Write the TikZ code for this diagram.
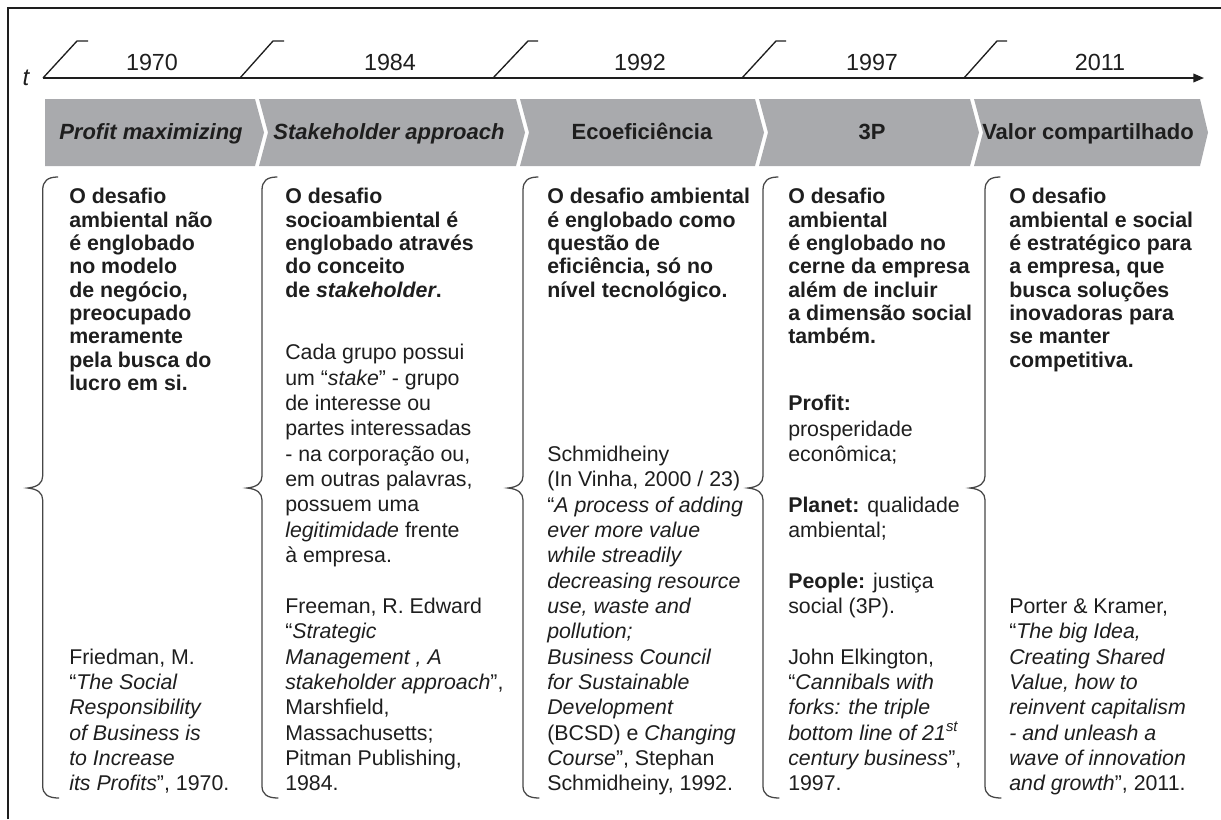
\documentclass[tikz,border=0pt]{standalone}
\usepackage{fontspec}
\setmainfont{Liberation Sans}
\usetikzlibrary{arrows.meta}
\definecolor{bandgray}{RGB}{169,170,173}
\definecolor{ink}{RGB}{30,30,30}
\definecolor{bracegray}{RGB}{70,70,70}

\begin{document}
\begin{tikzpicture}[x=0.75pt,y=-0.75pt,
  frameline/.style={draw=ink,line width=1.1pt},
  axisline/.style={draw=ink,line width=1.1pt},
  tickline/.style={draw=ink,line width=1pt,line join=round},
  band/.style={fill=bandgray,draw=none},
  yearlbl/.style={anchor=base,inner sep=0pt,text=ink,font=\fontsize{17.5}{20}\selectfont},
  chevlbl/.style={anchor=base,inner sep=0pt,text=ink,font=\fontsize{16.5}{19}\selectfont\bfseries},
  boldblk/.style={anchor=north west,inner sep=0pt,align=left,text=ink,font=\fontsize{16}{17.5}\selectfont\bfseries},
  regblk/.style={anchor=north west,inner sep=0pt,align=left,text=ink,font=\fontsize{16}{19}\selectfont},
  bracestyle/.style={draw=bracegray,line width=0.95pt,line cap=round},
  pics/lbrace/.style={code={
    \draw[bracestyle] (15,177) .. controls (5,177) and (0,181) .. (0,190)
      -- (0,476) .. controls (0,483) and (-5,487) .. (-15,488)
      .. controls (-5,489) and (0,493) .. (0,500)
      -- (0,786) .. controls (0,794) and (5,798) .. (16,798);
  }}
]
\useasboundingbox (0,0) rectangle (1221,819);

% outer frame (left and top edges)
\draw[frameline] (8,819) -- (8,8) -- (1221,8);

% time axis
\node[inner sep=0pt,anchor=base,text=ink,font=\fontsize{18}{20}\selectfont\itshape] (tlabel) at (26,85) {t};
\coordinate (axstart) at (43,78);
\coordinate (axend) at (1204,78);
\draw[axisline,-{Triangle[length=8pt,width=6.5pt]}] (axstart) -- (axend);

% period ticks
\draw[tickline] (43,78) -- (77,41) -- (88,41);
\draw[tickline] (240,78) -- (273,41) -- (284,41);
\draw[tickline] (493,78) -- (528,41) -- (538,41);
\draw[tickline] (742,78) -- (776,41) -- (786,41);
\draw[tickline] (964,78) -- (997,41) -- (1007,41);

% years
\node[yearlbl] (y1970) at (152,70) {1970};
\node[yearlbl] (y1984) at (390,70) {1984};
\node[yearlbl] (y1992) at (640,70) {1992};
\node[yearlbl] (y1997) at (872,70) {1997};
\node[yearlbl] (y2011) at (1100,70) {2011};

% chevron band
\path[band] (45,99) -- (255,99) -- (264,132.5) -- (255,166) -- (45,166) -- cycle;
\path[band] (259,99) -- (516,99) -- (525,132.5) -- (516,166) -- (259,166) -- (268,132.5) -- cycle;
\path[band] (520,99) -- (755,99) -- (764,132.5) -- (755,166) -- (520,166) -- (529,132.5) -- cycle;
\path[band] (759,99) -- (970,99) -- (979,132.5) -- (970,166) -- (759,166) -- (768,132.5) -- cycle;
\path[band] (974,99) -- (1200,99) -- (1208,132.5) -- (1200,166) -- (974,166) -- (983,132.5) -- cycle;

\node[chevlbl] (ch1) at (151,139) {\itshape Profit maximizing};
\node[chevlbl] (ch2) at (389,139) {\itshape Stakeholder approach};
\node[chevlbl] (ch3) at (642,139) {Ecoeficiência};
\node[chevlbl] (ch4) at (872,139) {3P};
\node[chevlbl] (ch5) at (1088,139) {Valor compartilhado};

% braces
\pic (br1) at (42.7,0) {lbrace};
\pic (br2) at (262,0) {lbrace};
\pic (br3) at (523,0) {lbrace};
\pic (br4) at (763,0) {lbrace};
\pic (br5) at (985,0) {lbrace};

% column 1
\node[boldblk] (c1top) at (69,187.2) {\strut O desafio\\ambiental não\\é englobado\\no modelo\\de negócio,\\preocupado\\meramente\\pela busca do\\lucro em si.};
\node[regblk] (c1ref) at (69,646.1) {\strut Friedman, M.\\“\textit{The Social}\\\textit{Responsibility}\\\textit{of Business is}\\\textit{to Increase}\\\textit{its Profits}”, 1970.};

% column 2
\node[boldblk] (c2top) at (285,187.2) {\strut O desafio\\socioambiental é\\englobado através\\do conceito\\de \textit{stakeholder}.};
\node[regblk] (c2mid) at (285,341.8) {\strut Cada grupo possui\\um “\textit{stake}” - grupo\\de interesse ou\\partes interessadas\\- na corporação ou,\\em outras palavras,\\possuem uma\\\textit{legitimidade} frente\\à empresa.};
\node[regblk] (c2ref) at (285,595.5) {\strut Freeman, R. Edward\\“\textit{Strategic}\\\textit{Management , A}\\\textit{stakeholder approach}”,\\Marshfield,\\Massachusetts;\\Pitman Publishing,\\1984.};

% column 3
\node[boldblk] (c3top) at (547,187.2) {\strut O desafio ambiental\\é englobado como\\questão de\\eficiência, só no\\nível tecnológico.};
\node[regblk] (c3ref) at (547,443.5) {\strut Schmidheiny\\(In Vinha, 2000 / 23)\\“\textit{A process of adding}\\\textit{ever more value}\\\textit{while streadily}\\\textit{decreasing resource}\\\textit{use, waste and}\\\textit{pollution;}\\\textit{Business Council}\\\textit{for Sustainable}\\\textit{Development}\\(BCSD) e \textit{Changing}\\\textit{Course}”, Stephan\\Schmidheiny, 1992.};

% column 4
\node[boldblk] (c4top) at (788,187.2) {\strut O desafio\\ambiental\\é englobado no\\cerne da empresa\\além de incluir\\a dimensão social\\também.};
\node[regblk] (c4mid) at (788,392.8) {\strut\textbf{Profit:}\\prosperidade\\econômica;\\[19pt]\textbf{Planet:} qualidade\\ambiental;\\[19pt]\textbf{People:} justiça\\social (3P).\\[19pt]John Elkington,\\“\textit{Cannibals with}\\\textit{forks: the triple}\\\textit{bottom line of 21\textsuperscript{st}}\\\textit{century business}”,\\1997.};

% column 5
\node[boldblk] (c5top) at (1009,187.2) {\strut O desafio\\ambiental e social\\é estratégico para\\a empresa, que\\busca soluções\\inovadoras para\\se manter\\competitiva.};
\node[regblk] (c5ref) at (1009,595.5) {\strut Porter \& Kramer,\\“\textit{The big Idea,}\\\textit{Creating Shared}\\\textit{Value, how to}\\\textit{reinvent capitalism}\\\textit{- and unleash a}\\\textit{wave of innovation}\\\textit{and growth}”, 2011.};
\end{tikzpicture}
\end{document}
